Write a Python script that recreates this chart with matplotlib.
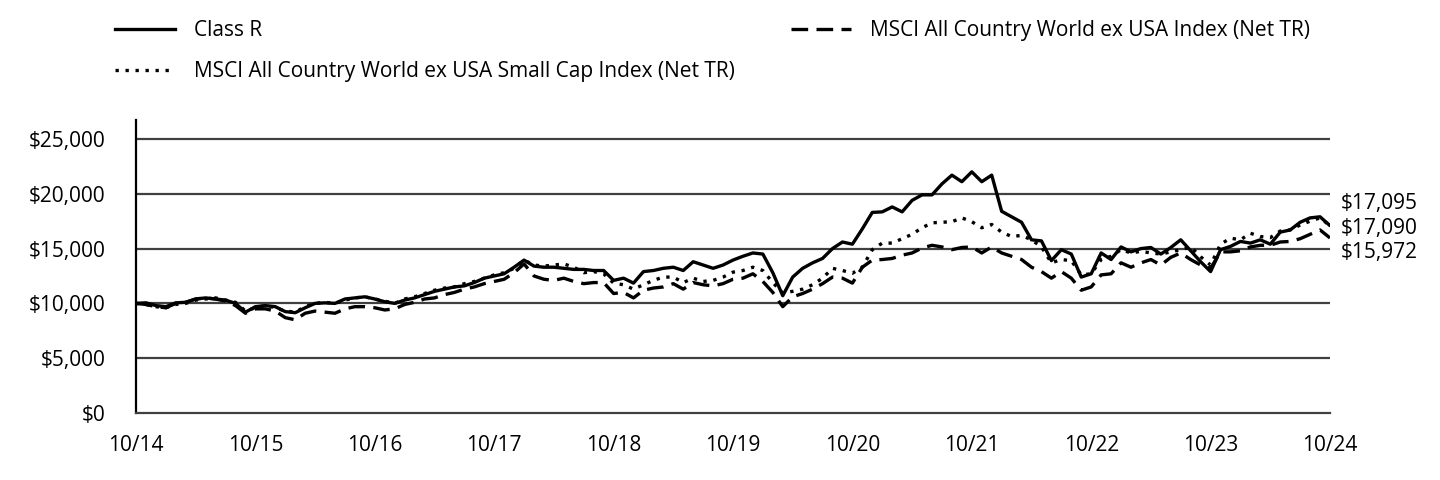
import numpy as np
import matplotlib
matplotlib.use("Agg")
import matplotlib.pyplot as plt
from matplotlib.lines import Line2D

plt.rcParams['font.family'] = ['Open Sans', 'DejaVu Sans']

# monthly values, 10/14 .. 10/24 (growth of $10,000)
class_r = [10000, 10050, 9800, 9700, 10050, 10100, 10400, 10500, 10400, 10300,
           10000, 9200, 9700, 9800, 9700, 9250, 9150, 9600, 10000, 10050,
           10000, 10400, 10500, 10600, 10400, 10150, 10000, 10300, 10500, 10800,
           11100, 11300, 11500, 11600, 11900, 12300, 12500, 12700, 13300, 13950,
           13400, 13300, 13300, 13200, 13100, 13100, 13000, 13000, 12100, 12300,
           11850, 12900, 13000, 13200, 13300, 13000, 13800, 13500, 13200, 13500,
           13950, 14300, 14600, 14500, 12800, 10700, 12400, 13200, 13700, 14100,
           15000, 15600, 15400, 16800, 18300, 18350, 18800, 18350, 19400, 19900,
           19900, 20900, 21700, 21100, 22000, 21100, 21700, 18400, 17900, 17400,
           15800, 15700, 13900, 14900, 14500, 12400, 12700, 14600, 14000, 15150,
           14700, 15000, 15100, 14500, 15100, 15800, 14800, 13800, 12900, 14900,
           15200, 15650, 15500, 15800, 15400, 16500, 16700, 17400, 17800, 17900,
           17095]

small_cap = [10000, 9900, 9700, 9600, 9900, 10000, 10300, 10400, 10500, 10300,
             10100, 9300, 9600, 9800, 9600, 9300, 9200, 9700, 10000, 10100,
             10000, 10300, 10500, 10600, 10400, 10200, 10000, 10400, 10600, 10900,
             11200, 11400, 11500, 11800, 12000, 12300, 12600, 12800, 13200, 13950,
             13500, 13400, 13500, 13600, 13300, 12800, 12900, 12700, 11850, 11700,
             11300, 11700, 12100, 12400, 12400, 11900, 12300, 12000, 12100, 12400,
             12850, 13000, 13300, 13000, 11900, 10950, 11100, 11300, 11700, 12300,
             13200, 13000, 12750, 13300, 14900, 15500, 15500, 15900, 16300, 16900,
             17350, 17400, 17450, 17800, 17450, 16900, 17200, 16500, 16100, 16200,
             15800, 15150, 13700, 14000, 13900, 12600, 12700, 14000, 14300, 14900,
             14600, 14750, 14600, 14500, 14700, 14900, 15150, 14250, 13500, 15400,
             15950, 15800, 16400, 16100, 16000, 16600, 16700, 17150, 17500, 17800,
             17090]

acwi = [10000, 9900, 9700, 9600, 10000, 10100, 10400, 10500, 10400, 10200,
        9800, 9100, 9500, 9500, 9300, 8700, 8500, 9100, 9300, 9200,
        9100, 9500, 9700, 9700, 9600, 9400, 9500, 9900, 10100, 10400,
        10500, 10800, 11000, 11300, 11500, 11800, 12000, 12200, 12800, 13600,
        12500, 12200, 12100, 12300, 12000, 11800, 11900, 11900, 10900, 11000,
        10500, 11200, 11400, 11500, 11800, 11300, 11900, 11700, 11600, 11800,
        12200, 12300, 12700, 12000, 11000, 9700, 10600, 10900, 11300, 11800,
        12400, 12300, 11850, 13300, 13950, 14000, 14100, 14400, 14600, 15050,
        15300, 15150, 14900, 15100, 15150, 14600, 15150, 14600, 14300, 14000,
        13300, 12900, 12300, 12900, 12300, 11200, 11500, 12600, 12700, 13700,
        13300, 13700, 14000, 13500, 14200, 14600, 14000, 13500, 13200, 14700,
        14700, 14800, 15150, 15300, 15300, 15600, 15650, 15900, 16300, 16700,
        15972]

xlabels = ['10/14', '10/15', '10/16', '10/17', '10/18', '10/19',
           '10/20', '10/21', '10/22', '10/23', '10/24']
yticks = [0, 5000, 10000, 15000, 20000, 25000]

months = np.arange(len(class_r))
fs = 15

fig = plt.figure(figsize=(14.4, 4.8), dpi=100)
ax = fig.add_axes([136/1440, 1-413/480, (1330-136)/1440, (413-120)/480])

grid_c = '#404040'
for y in yticks[1:]:
    ax.axhline(y, color=grid_c, lw=1.6, zorder=1)

ax.plot(months, class_r, color='black', lw=2.4, solid_capstyle='round', zorder=3)
ax.plot(months, acwi, color='black', lw=2.4, dashes=(5, 2.5), zorder=3)
ax.plot(months, small_cap, color='black', lw=2.4, dashes=(1, 2), zorder=3)

ax.set_xlim(0, 120)
ax.set_ylim(0, 26730)
ax.set_yticks(yticks)
ax.set_yticklabels(['$' + format(v, ',') for v in yticks])
ax.set_xticks(np.arange(0, 121, 12))
ax.set_xticklabels(xlabels)
ax.tick_params(axis='y', length=0, pad=22, labelsize=fs)
ax.tick_params(axis='x', length=0, pad=16, labelsize=fs)

for s in ['top', 'right']:
    ax.spines[s].set_visible(False)
ax.spines['left'].set_color('black')
ax.spines['left'].set_linewidth(1.6)
ax.spines['bottom'].set_color(grid_c)
ax.spines['bottom'].set_linewidth(1.6)

# end value labels
end_pos = [0.716, 0.631, 0.549]
for v, yp in zip([class_r[-1], small_cap[-1], acwi[-1]], end_pos):
    ax.text(1.009, yp, '$' + format(v, ','), transform=ax.transAxes,
            fontsize=fs, ha='left', va='center')

handles = [Line2D([], [], color='black', lw=2.4),
           Line2D([], [], color='black', lw=2.4, dashes=(1, 2)),
           Line2D([], [], color='black', lw=2.4, dashes=(5, 2.5))]
labels = ['Class R',
          'MSCI All Country World ex USA Small Cap Index (Net TR)',
          'MSCI All Country World ex USA Index (Net TR)']
fig.legend(handles, labels, ncol=2, loc='upper left',
           bbox_to_anchor=(115/1440, 1-20/480), frameon=False, fontsize=fs,
           handlelength=2.9, handletextpad=0.87, columnspacing=2.72,
           labelspacing=0.98, borderpad=0, borderaxespad=0)

fig.savefig('out.png', dpi=100)
